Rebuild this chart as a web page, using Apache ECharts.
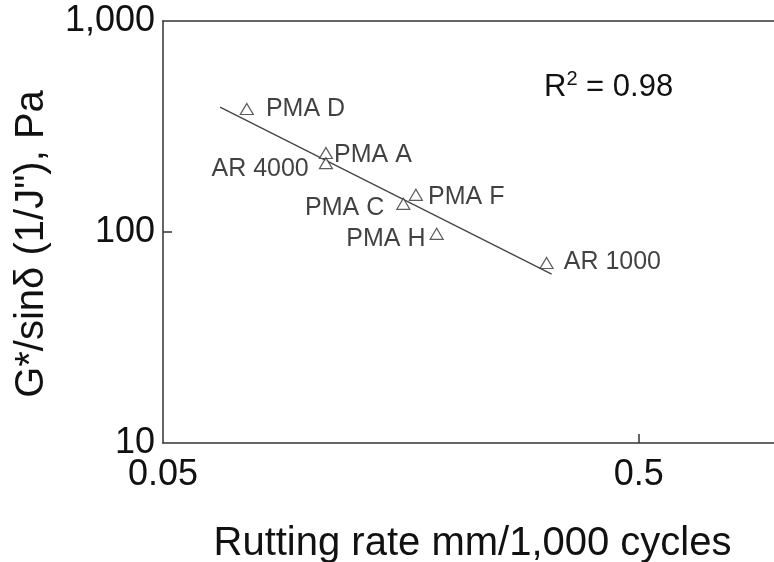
<!DOCTYPE html>
<html><head><meta charset="utf-8">
<script src="https://cdn.jsdelivr.net/npm/echarts@6/dist/echarts.min.js"></script>
<style>html,body{margin:0;padding:0;background:#fff}#c{width:774px;height:562px}</style>
</head><body><div id="c"></div>
<script>
// Data
var names = ['PMA D', 'PMA A', 'AR 4000', 'PMA F', 'PMA C', 'PMA H', 'AR 1000'];
var rutRate = [0.075, 0.110, 0.110, 0.170, 0.160, 0.188, 0.320];
var gSinD = [383, 237, 212, 150, 136, 98, 71.3];
var fitX = [0.0659, 0.328];
var fitY = [391, 63.2];
var xTicks = [0.05, 0.5];
var yTicks = [10, 100, 1000];
var yTickLabels = ['10', '100', '1,000'];

var labelPos = {
  'PMA D': {position: 'right', distance: 12, offset: [0, 0]},
  'PMA A': {position: 'right', distance: 1, offset: [0, 2]},
  'AR 4000': {position: 'left', distance: 10, offset: [0, 6]},
  'PMA F': {position: 'right', distance: 5, offset: [0, 2]},
  'PMA C': {position: 'left', distance: 12, offset: [0, 4]},
  'PMA H': {position: 'left', distance: 4, offset: [0, 5]},
  'AR 1000': {position: 'right', distance: 10, offset: [0, -1]}
};

var pts = names.map(function (n, i) {
  var lp = labelPos[n];
  return {
    value: [rutRate[i], gSinD[i]],
    name: n,
    label: {show: true, formatter: n, position: lp.position, distance: lp.distance, offset: lp.offset}
  };
});

var font = '"Liberation Sans", Arial, Helvetica, sans-serif';
var axisLineStyle = {color: '#333', width: 1.5};
var chart = echarts.init(document.getElementById('c'), null, {renderer: 'canvas'});
chart.setOption({
  animation: false,
  backgroundColor: '#fff',
  title: {
    text: '{r|R}{s|2}{r| = 0.98}',
    left: 539, top: 64,
    textStyle: {
      fontWeight: 'normal',
      rich: {
        r: {fontFamily: font, fontSize: 31, fontWeight: 'normal', color: '#111'},
        s: {fontFamily: font, fontSize: 20, fontWeight: 'normal', color: '#111', verticalAlign: 'top', padding: [0, 0, 16, 0]}
      }
    }
  },
  grid: {left: 163, top: 21, width: 619, bottom: 119, containLabel: false, outerBoundsMode: 'none'},
  xAxis: [{
    type: 'log', logBase: 10, min: 0.05, max: 1,
    name: 'Rutting rate mm/1,000 cycles',
    nameLocation: 'middle', nameGap: 81,
    nameTextStyle: {fontFamily: font, fontSize: 40, color: '#111'},
    axisLine: {show: true, lineStyle: axisLineStyle},
    axisTick: {show: true, inside: true, length: 9, customValues: [0.5], lineStyle: axisLineStyle},
    axisLabel: {customValues: xTicks, fontFamily: font, fontSize: 36, color: '#111', margin: 14,
      formatter: function (v) { return String(Math.round(v * 100) / 100); }},
    splitLine: {show: false}, minorTick: {show: false}
  }, {
    type: 'log', logBase: 10, min: 0.05, max: 1, position: 'top',
    axisLine: {show: true, lineStyle: axisLineStyle}, axisTick: {show: false}, axisLabel: {show: false}, splitLine: {show: false}
  }],
  yAxis: {
    type: 'log', logBase: 10, min: 10, max: 1000,
    name: 'G*/sinδ (1/J"), Pa',
    nameLocation: 'middle', nameGap: 111, nameRotate: 90,
    nameTextStyle: {fontFamily: font, fontSize: 40, color: '#111', padding: [0, 24, 0, 0]},
    axisLine: {show: true, lineStyle: axisLineStyle},
    axisTick: {show: true, inside: true, length: 9, customValues: [100], lineStyle: axisLineStyle},
    axisLabel: {customValues: yTicks, fontFamily: font, fontSize: 36, color: '#111', margin: 8,
      formatter: function (v) { var i = yTicks.indexOf(Math.round(v)); return i >= 0 ? yTickLabels[i] : ''; }},
    splitLine: {show: false}, minorTick: {show: false}
  },
  series: [
    {
      type: 'line', data: fitX.map(function (x, i) { return [x, fitY[i]]; }),
      showSymbol: false, symbol: 'none',
      lineStyle: {color: '#444', width: 1.3}, silent: true, z: 2
    },
    {
      type: 'scatter', data: pts, symbol: 'triangle', symbolSize: [13, 11],
      itemStyle: {color: '#fff', borderColor: '#333', borderWidth: 1.2},
      label: {fontFamily: font, fontSize: 25, color: '#111'},
      z: 3
    }
  ]
});
</script></body></html>
